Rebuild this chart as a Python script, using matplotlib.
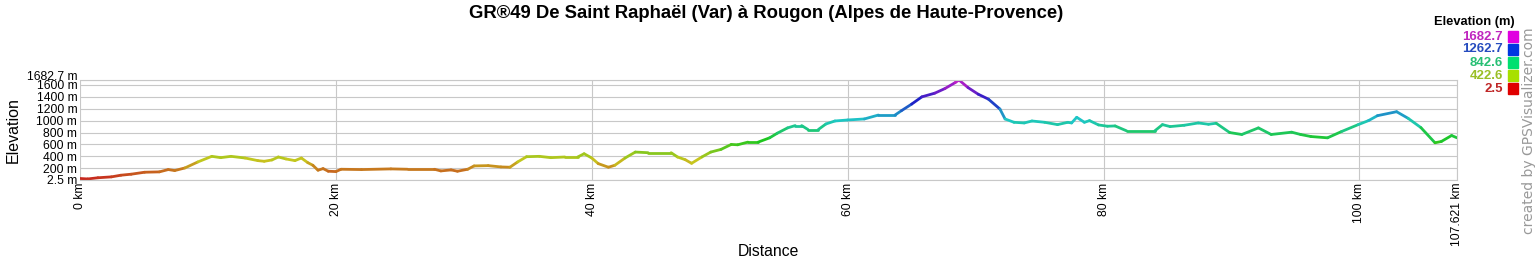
import numpy as np
import matplotlib
matplotlib.use("Agg")
from matplotlib import pyplot as plt
from matplotlib.collections import LineCollection
from matplotlib.colors import hsv_to_rgb
from matplotlib.transforms import ScaledTranslation

# distance (km) and elevation (m) read from the profile
dist = [0.0, 0.6, 1.4, 2.45, 3.2, 4.0, 5.05, 6.2, 6.9, 7.4, 8.2, 9.2, 10.3, 11.0, 11.8,
        12.9, 13.9, 14.4, 15.0, 15.5, 16.1, 16.8, 17.3, 17.8, 18.2, 18.6, 19.0, 19.4,
        20.0, 20.4, 22.0, 24.3, 25.6, 27.7, 28.2, 29.0, 29.5, 30.3, 30.8, 31.9, 32.9,
        33.6, 34.2, 34.9, 35.9, 36.8, 37.9, 38.9, 39.4, 40.0, 40.5, 41.3, 41.8, 42.6,
        43.4, 44.4, 46.2, 46.7, 47.3, 47.8, 48.6, 49.3, 50.1, 50.9, 51.4, 52.2, 53.0,
        53.9, 54.5, 55.3, 55.9, 56.4, 56.9, 57.7, 58.3, 59.0, 60.0, 61.3, 62.4, 63.7,
        64.2, 65.0, 65.8, 66.8, 67.6, 68.4, 68.7, 69.4, 70.2, 71.0, 71.9, 72.3, 73.0,
        73.8, 74.4, 75.4, 76.4, 77.2, 77.5, 77.9, 78.5, 78.9, 79.6, 80.3, 80.9, 81.8,
        84.0, 84.6, 85.2, 86.3, 87.4, 88.2, 88.8, 89.85, 90.8, 92.1, 93.1, 94.7, 95.4,
        96.2, 97.5, 98.6, 99.9, 100.7, 101.4, 102.9, 103.8, 104.8, 105.9, 106.4, 107.2,
        107.621]
elev = [28, 20, 40, 55, 83, 100, 133, 139, 178, 161, 205, 305, 400, 378, 400,
        372, 328, 317, 339, 389, 356, 328, 372, 294, 250, 167, 194, 150,
        144, 183, 178, 189, 183, 183, 155, 172, 150, 183, 239, 244, 222,
        217, 305, 394, 400, 378, 389, 389, 444, 372, 278, 217, 250, 372,
        472, 461, 461, 389, 344, 283, 389, 472, 517, 600, 594, 639, 639,
        711, 789, 878, 917, 917, 850, 850, 944, 994, 1011, 1028, 1094, 1094,
        1167, 1278, 1400, 1461, 1539, 1639, 1682.7, 1556, 1444, 1361, 1194, 1028, 972,
        961, 994, 972, 933, 972, 961, 1056, 972, 1000, 928, 906, 911, 828,
        828, 933, 900, 922, 961, 939, 956, 800, 767, 878, 767, 806, 767,
        733, 711, 817, 933, 1000, 1083, 1150, 1039, 883, 628, 650, 750,
        711]

emin = 2.5
emax = 1682.7
yticks = [2.5, 200, 400, 600, 800, 1000, 1200, 1400, 1600, 1682.7]
ytick_labels = ['2.5 m', '200 m', '400 m', '600 m', '800 m', '1000 m', '1200 m', '1400 m', '1600 m', '1682.7 m']
xticks = [0, 20, 40, 60, 80, 100, 107.621]
xtick_labels = ['0 km', '20 km', '40 km', '60 km', '80 km', '100 km', '107.621 km']
legend_levels = [1682.7, 1262.7, 842.6, 422.6, 2.5]
legend_vals = ['1682.7', '1262.7', '842.6', '422.6', '2.5']


def elev_color(e, s=0.85, v=0.78):
    h = (e - emin) / (emax - emin) * 300.0 / 360.0
    return hsv_to_rgb([h, s, v])


plt.rcParams['font.family'] = ['Liberation Sans', 'DejaVu Sans']

fig = plt.figure(figsize=(15.37, 2.60), dpi=100)
ax = fig.add_axes([80/1537, 80/260, 1377/1537, 100/260])

x = np.array(dist)
y = np.array(elev)
pts = np.column_stack([x, y]).reshape(-1, 1, 2)
segs = np.concatenate([pts[:-1], pts[1:]], axis=1)
cols = [elev_color((y[i] + y[i+1]) / 2) for i in range(len(y) - 1)]
lc = LineCollection(segs, colors=cols, linewidths=2.0, capstyle='round', joinstyle='round')
ax.add_collection(lc)

ax.set_xlim(0, 107.621)
ax.set_ylim(emin, emax)
ax.set_yticks(yticks)
ax.set_yticklabels(ytick_labels, fontsize=8.7)
ax.set_xticks(xticks)
ax.set_xticklabels(xtick_labels, fontsize=8.7, rotation=90)
ax.tick_params(length=0, pad=2)
# the top label is pushed up so it does not sit on 1600 m
top_lab = ax.get_yticklabels()[-1]
top_lab.set_transform(top_lab.get_transform() + ScaledTranslation(0, 5/100, fig.dpi_scale_trans))

ax.grid(True, color='#c8c8c8', linewidth=0.8)
ax.set_axisbelow(True)
for sp in ax.spines.values():
    sp.set_color('#c8c8c8')
    sp.set_linewidth(0.8)
ax.spines['left'].set_visible(False)

ax.set_ylabel('Elevation', fontsize=11.5, labelpad=4)
fig.text(768/1537, 1 - 251/260, 'Distance', ha='center', va='center', fontsize=11.3)

fig.text(766/1537, 1 - 14/260, 'GR®49 De Saint Raphaël (Var) à Rougon (Alpes de Haute-Provence)',
         ha='center', va='center', fontsize=13.3, fontweight='bold')

# legend
fig.text(1515/1537, 1 - 22/260, 'Elevation (m)', ha='right', va='center',
         fontsize=9.3, fontweight='bold')
for i, lab in enumerate(legend_vals):
    yc = 1 - (36.5 + 13 * i) / 260
    fig.text(1503/1537, yc, lab, ha='right', va='center', fontsize=9.5, fontweight='bold',
             color=elev_color(legend_levels[i], 0.8, 0.75))
    fig.patches.append(plt.Rectangle((1508/1537, yc - 5.5/260), 10/1537, 11/260,
                                     transform=fig.transFigure,
                                     color=elev_color(legend_levels[i], 1.0, 0.88)))

fig.text(1529/1537, 1 - 131/260, 'created by GPSVisualizer.com', rotation=90,
         ha='center', va='center', fontsize=10, color='#999999', family='DejaVu Sans')

fig.savefig('out.png', dpi=100)
